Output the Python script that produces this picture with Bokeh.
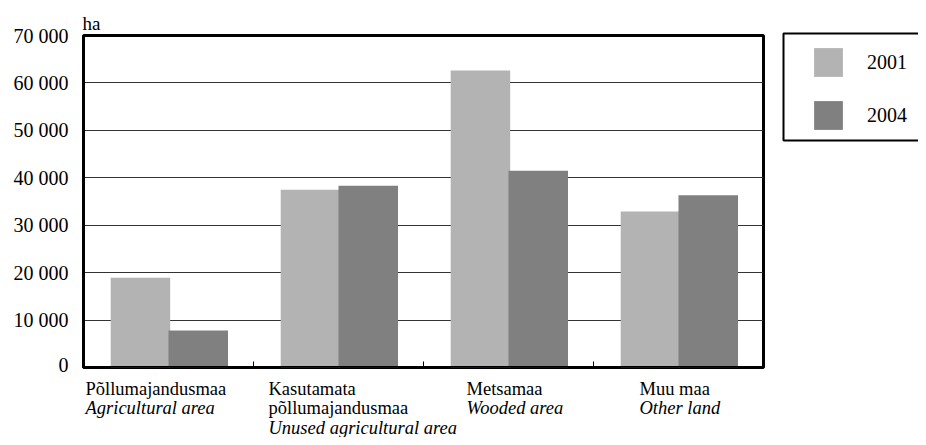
from bokeh.plotting import figure
from bokeh.models import (ColumnDataSource, FixedTicker, Legend, LegendItem, Range1d, Title,
                          BoxAnnotation)
from bokeh.transform import dodge
from bokeh.layouts import row, column
from bokeh.core.properties import value
from bokeh.embed import file_html
from bokeh.resources import INLINE

# ---- data ----
categories_et = ["Põllumajandusmaa", "Kasutamata\npõllumajandusmaa", "Metsamaa", "Muu maa"]
categories_en = ["Agricultural area", "Unused agricultural area", "Wooded area", "Other land"]
years = ["2001", "2004"]
values_2001 = [18900, 37500, 62600, 32900]
values_2004 = [7800, 38300, 41500, 36300]
y_ticks = [0, 10000, 20000, 30000, 40000, 50000, 60000, 70000]
y_tick_labels = ["0", "10 000", "20 000", "30 000", "40 000", "50 000", "60 000", "70 000"]
unit_label = "ha"

# ---- style ----
FONT = "Liberation Serif"
COL_2001 = "#B3B3B3"
COL_2004 = "#808080"
n = len(categories_et)

source = ColumnDataSource(data=dict(
    x=[i + 0.5 for i in range(n)],
    v2001=values_2001,
    v2004=values_2004,
))

# ---- main plot ----
MAIN_H = 375
main = figure(width=766, height=MAIN_H, x_range=Range1d(0, n), y_range=Range1d(0, 70000),
              output_backend="svg", toolbar_location=None,
              min_border_left=83, min_border_right=3, min_border_top=35,
              min_border_bottom=MAIN_H - 367)
main.outline_line_color = "black"
main.outline_line_width = 3
main.title = Title(text=unit_label, align="left", offset=-1, standoff=3,
                   text_font=FONT, text_font_size="19px", text_font_style="normal",
                   text_color="black")

r1 = main.vbar(x=dodge("x", -0.165, range=main.x_range), top="v2001", width=0.35,
               source=source, fill_color=COL_2001, line_color=None)
r2 = main.vbar(x=dodge("x", 0.175, range=main.x_range), top="v2004", width=0.35,
               source=source, fill_color=COL_2004, line_color=None)

main.xaxis.fixed_location = 0
main.xaxis.ticker = FixedTicker(ticks=list(range(1, n)))
main.xaxis.major_label_overrides = {i: "" for i in range(1, n)}
main.xaxis.major_label_text_font_size = "0px"
main.xaxis.major_label_standoff = 0
main.xaxis.major_tick_in = 6
main.xaxis.major_tick_out = 0
main.xaxis.minor_tick_out = 0
main.xaxis.minor_tick_in = 0
main.xaxis.minor_tick_line_color = None
main.xaxis.axis_line_width = 3
main.xaxis.axis_line_color = "black"
main.xaxis.major_tick_line_color = "black"

main.yaxis.ticker = FixedTicker(ticks=y_ticks)
main.yaxis.major_label_overrides = dict(zip(y_ticks, y_tick_labels))
main.yaxis.major_tick_in = 0
main.yaxis.major_tick_out = 0
main.yaxis.minor_tick_line_color = None
main.yaxis.axis_line_width = 3
main.yaxis.axis_line_color = "black"
main.yaxis.major_label_standoff = 15
main.yaxis.major_label_text_font = FONT
main.yaxis.major_label_text_font_size = "20px"
main.yaxis.major_label_text_color = "black"

main.xgrid.grid_line_color = None
main.ygrid.ticker = FixedTicker(ticks=y_ticks)
main.ygrid.grid_line_color = "#333333"
main.ygrid.grid_line_width = 1

# ---- category labels (below the plot, sharing the x range) ----
LAB_H = 437 - MAIN_H
lab = figure(width=766, height=LAB_H, x_range=main.x_range, y_range=Range1d(LAB_H, 0),
             output_backend="svg", toolbar_location=None,
             min_border_left=83, min_border_right=3, min_border_top=0, min_border_bottom=0)
lab.axis.visible = False
lab.grid.visible = False
lab.outline_line_color = None

first_baseline = 13
line_step = 19.8
label_x_offset = [-83, -70, -42, -39]

rows_x, rows_y, rows_t, rows_off = [], [], [], []
it_x, it_y, it_t, it_off = [], [], [], []
for i in range(n):
    lines = categories_et[i].split("\n")
    for k, t in enumerate(lines):
        rows_x.append(i + 0.5)
        rows_y.append(first_baseline + k * line_step)
        rows_t.append(t)
        rows_off.append(label_x_offset[i])
    it_x.append(i + 0.5)
    it_y.append(first_baseline + len(lines) * line_step)
    it_t.append(categories_en[i])
    it_off.append(label_x_offset[i])

lab.text(x="x", y="y", text="t", x_offset="off",
         source=ColumnDataSource(dict(x=rows_x, y=rows_y, t=rows_t, off=rows_off)),
         text_font=value(FONT), text_font_size="18.5px", text_align="left",
         text_baseline="alphabetic", text_color="black")
lab.text(x="x", y="y", text="t", x_offset="off",
         source=ColumnDataSource(dict(x=it_x, y=it_y, t=it_t, off=it_off)),
         text_font=value(FONT), text_font_size="18.5px", text_font_style="italic",
         text_align="left", text_baseline="alphabetic", text_color="black")

# ---- legend panel ----
leg = figure(width=152, height=437, x_range=Range1d(0, 152), y_range=Range1d(0, 437),
             output_backend="svg", toolbar_location=None,
             min_border_left=0, min_border_right=0, min_border_top=0, min_border_bottom=0)
leg.axis.visible = False
leg.grid.visible = False
leg.outline_line_color = None
leg.add_layout(BoxAnnotation(left=17, right=200, top=404, bottom=297,
                             fill_alpha=0, line_color="black", line_width=2, line_alpha=1))
# proxy renderers (hidden) so that the legend can show the series swatches
d1 = leg.vbar(x="x", top="v2001", width=0.35, source=source, fill_color=COL_2001,
              line_color=None, visible=False)
d2 = leg.vbar(x="x", top="v2004", width=0.35, source=source, fill_color=COL_2004,
              line_color=None, visible=False)
legend = Legend(items=[LegendItem(label=years[0], renderers=[d1]),
                       LegendItem(label=years[1], renderers=[d2])],
                location=(44, 304), padding=0, margin=0, spacing=17,
                glyph_width=36, glyph_height=36, label_standoff=21,
                border_line_color=None, background_fill_alpha=0,
                label_text_font=FONT, label_text_font_size="20px", label_text_color="black")
leg.add_layout(legend)

layout = row(column(main, lab), leg)
open("out.html", "w").write(file_html(layout, INLINE))
